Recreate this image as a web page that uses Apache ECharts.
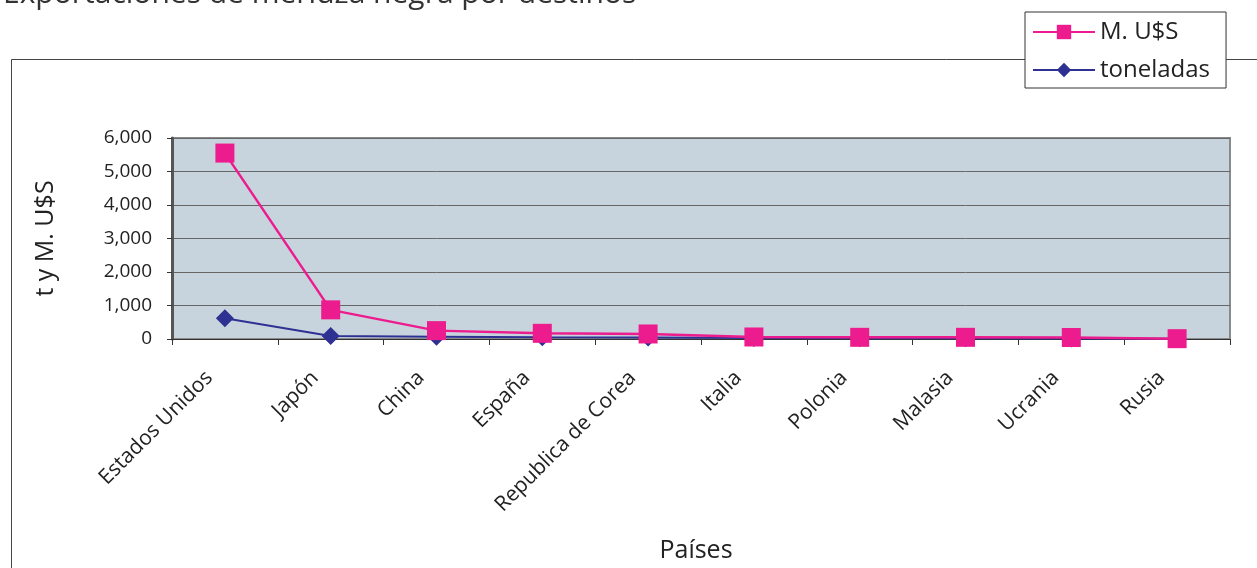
<!DOCTYPE html>
<html>
<head>
<meta charset="utf-8">
<script src="https://cdn.jsdelivr.net/npm/echarts@6/dist/echarts.min.js"></script>
<style>
html,body{margin:0;padding:0;background:#fff;}
#chart{width:1257px;height:568px;}
</style>
</head>
<body>
<div id="chart"></div>
<script>
var categories = ["Estados Unidos","Japón","China","España","Republica de Corea","Italia","Polonia","Malasia","Ucrania","Rusia"];
var musd = [5550, 870, 250, 170, 150, 60, 50, 50, 45, 10];
var toneladas = [620, 90, 70, 50, 45, 30, 25, 20, 18, 5];
var yTicks = [0, 1000, 2000, 3000, 4000, 5000, 6000];

var FONT = "'Open Sans', 'Noto Sans', sans-serif";
var chart = echarts.init(document.getElementById('chart'), null, {renderer: 'canvas'});
chart.setOption({
  animation: false,
  backgroundColor: '#ffffff',
  title: {
    text: 'Exportaciones de merluza negra por destinos',
    left: -2, top: -26,
    textStyle: {fontFamily: FONT, fontSize: 30, fontWeight: 'normal', color: '#333'}
  },
  graphic: [{
    type: 'rect', left: 9, top: 57, z: -10,
    shape: {x: 0.5, y: 0.5, width: 1260, height: 520},
    style: {fill: 'none', stroke: '#444', lineWidth: 1}
  }],
  legend: {
    orient: 'vertical', left: 1025, top: 12,
    data: ['M. U$S', 'toneladas'],
    backgroundColor: '#fff', borderColor: '#333', borderWidth: 1,
    padding: [6, 16, 4, 7], itemGap: 10, itemWidth: 62, itemHeight: 18,
    textStyle: {fontFamily: FONT, fontSize: 24, lineHeight: 28, color: '#222'}
  },
  grid: {
    left: 172, right: 27, top: 138, bottom: 229,
    outerBoundsMode: 'none', containLabel: false,
    show: true, backgroundColor: '#C8D4DD', borderColor: '#8a8a8a', borderWidth: 2
  },
  xAxis: {
    type: 'category', data: categories, boundaryGap: true,
    name: 'Países', nameLocation: 'middle', nameGap: 199,
    nameTextStyle: {fontFamily: FONT, fontSize: 25, color: '#222', padding: [0, 10, 0, 0]},
    axisLine: {lineStyle: {color: '#333', width: 1}},
    axisTick: {show: true, alignWithLabel: false, length: 6, lineStyle: {color: '#333'}},
    axisLabel: {rotate: 45, fontFamily: FONT, fontSize: 21, color: '#222', margin: 20,
      padding: [0, 22, 0, 0], interval: 0}
  },
  yAxis: {
    type: 'value', min: 0, max: 6000, interval: 1000,
    name: 't y M. U$S', nameLocation: 'middle', nameGap: 114,
    nameTextStyle: {fontFamily: FONT, fontSize: 25, color: '#222'},
    axisLine: {show: true, lineStyle: {color: '#555', width: 3}},
    axisTick: {show: true, length: 5, lineStyle: {color: '#333'}},
    axisLabel: {fontFamily: FONT, fontSize: 19, color: '#222', margin: 20,
      formatter: function (v) { return yTicks.indexOf(v) >= 0 ? v.toLocaleString('en-US') : ''; }},
    splitLine: {show: true, lineStyle: {color: '#666', width: 1}}
  },
  series: [
    {
      name: 'toneladas', type: 'line', data: toneladas,
      symbol: 'diamond', symbolSize: 18,
      lineStyle: {color: '#2E3192', width: 2},
      itemStyle: {color: '#2E3192'}, z: 2
    },
    {
      name: 'M. U$S', type: 'line', data: musd,
      symbol: 'rect', symbolSize: 19,
      lineStyle: {color: '#EC1C8E', width: 2.5},
      itemStyle: {color: '#EC1C8E'}, z: 3
    }
  ]
});
</script>
</body>
</html>
